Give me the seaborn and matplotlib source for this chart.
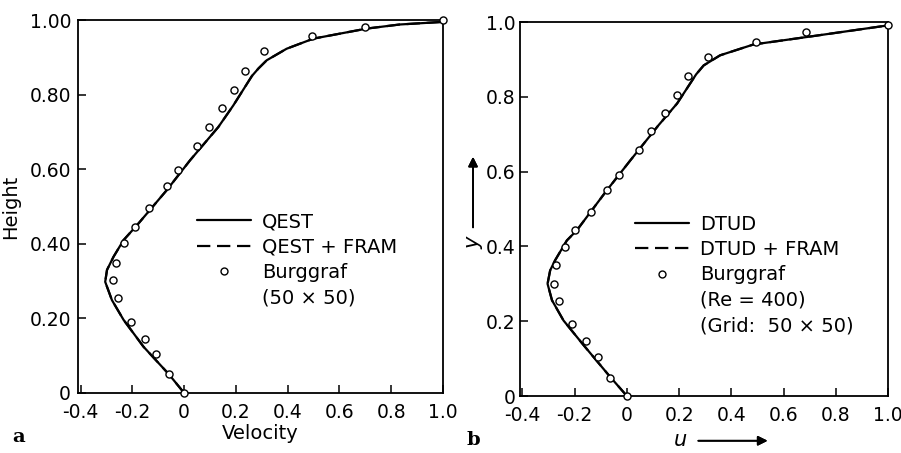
import numpy as np
import pandas as pd
import seaborn as sns
import matplotlib.pyplot as plt
from matplotlib.lines import Line2D

# panel a: QEST curve (u, height)
qest_y = [0, 0.051, 0.124, 0.196, 0.249, 0.298, 0.33, 0.365, 0.41, 0.45, 0.544,
          0.624, 0.713, 0.771, 0.85, 0.87, 0.892, 0.923, 0.950, 0.977, 0.988, 0.995]
qest_u = [0, -0.06, -0.157, -0.234, -0.279, -0.305, -0.298, -0.273, -0.234, -0.182, -0.067,
          0.023, 0.132, 0.19, 0.262, 0.287, 0.319, 0.396, 0.499, 0.705, 0.833, 1.0]
# QEST+FRAM coincides with QEST in the plot
fram_a_y = list(qest_y)
fram_a_u = list(qest_u)

# panel b: DTUD curve
dtud_y = [0, 0.051, 0.136, 0.202, 0.256, 0.30, 0.336, 0.363, 0.416, 0.443, 0.55,
          0.63, 0.724, 0.782, 0.86, 0.884, 0.911, 0.94, 0.96, 0.991]
dtud_u = [0, -0.064, -0.166, -0.243, -0.287, -0.304, -0.294, -0.275, -0.23, -0.192, -0.077,
          0.013, 0.121, 0.192, 0.265, 0.294, 0.357, 0.485, 0.69, 1.0]
fram_b_y = list(dtud_y)
fram_b_u = list(dtud_u)

# Burggraf reference points
burg_a_u = [1.0, 0.70, 0.495, 0.31, 0.235, 0.194, 0.145, 0.098, 0.049, -0.024, -0.068,
            -0.134, -0.19, -0.233, -0.265, -0.274, -0.256, -0.207, -0.153, -0.108, -0.06, 0]
burg_a_y = [1.0, 0.982, 0.958, 0.916, 0.864, 0.813, 0.763, 0.714, 0.6625, 0.597, 0.554,
            0.496, 0.446, 0.401, 0.348, 0.302, 0.254, 0.19, 0.146, 0.105, 0.051, 0]
burg_b_u = [1.0, 0.686, 0.496, 0.309, 0.235, 0.193, 0.147, 0.093, 0.045, -0.029, -0.077,
            -0.138, -0.197, -0.236, -0.272, -0.28, -0.259, -0.211, -0.158, -0.112, -0.066, 0]
burg_b_y = [0.991, 0.972, 0.946, 0.906, 0.856, 0.804, 0.756, 0.709, 0.658, 0.592, 0.551,
            0.492, 0.443, 0.399, 0.351, 0.299, 0.254, 0.193, 0.146, 0.105, 0.049, 0]

xticks = [-0.4, -0.2, 0, 0.2, 0.4, 0.6, 0.8, 1.0]
xticklabels = ["-0.4", "-0.2", "0", "0.2", "0.4", "0.6", "0.8", "1.0"]
yticks = [0, 0.2, 0.4, 0.6, 0.8, 1.0]
yticklabels_a = ["0", "0.20", "0.40", "0.60", "0.80", "1.00"]
yticklabels_b = ["0", "0.2", "0.4", "0.6", "0.8", "1.0"]

sns.set_style("ticks")
plt.rcParams['font.family'] = ['DejaVu Sans']
plt.rcParams['font.size'] = 13
for key in ["text.color", "axes.labelcolor", "xtick.color", "ytick.color", "axes.edgecolor"]:
    plt.rcParams[key] = "black"

fig = plt.figure(figsize=(9.01, 4.53), dpi=100)
ax_a = fig.add_axes([0.0866, 0.1325, 0.405, 0.8233])
ax_b = fig.add_axes([0.577, 0.1258, 0.4086, 0.8256])

dash = (0, (6, 3))


def draw_panel(ax, cu, cy, fu, fy, bu, by, names, ylabels, ypad):
    sns.lineplot(x=cu, y=cy, sort=False, estimator=None, color="k", lw=1.6, ax=ax)
    sns.lineplot(x=fu, y=fy, sort=False, estimator=None, color="k", lw=1.6,
                 linestyle=dash, ax=ax)
    sns.scatterplot(x=bu, y=by, marker="o", s=26, facecolor="white",
                    edgecolor="k", linewidth=1.0, ax=ax, zorder=5, clip_on=False)
    for ln in ax.lines:
        ln.set_clip_on(False)
    ax.set_xlim(-0.41, 1.0)
    ax.set_ylim(0, 1.0)
    ax.set_xticks(xticks)
    ax.set_xticklabels(xticklabels)
    ax.set_yticks(yticks)
    ax.set_yticklabels(ylabels)
    ax.tick_params(axis="both", direction="in", length=6, width=1.1, labelsize=13.5)
    ax.tick_params(axis="x", pad=7)
    ax.tick_params(axis="y", pad=ypad)
    for sp in ax.spines.values():
        sp.set_linewidth(1.3)
        sp.set_visible(True)
    handles = [Line2D([], [], color="k", lw=1.6),
               Line2D([], [], color="k", lw=1.6, linestyle=dash),
               Line2D([], [], color="k", marker="o", ls="none", mfc="white",
                      mec="k", ms=5, mew=1.0)]
    handles += [Line2D([], [], ls="none") for _ in names[3:]]
    return handles


names_a = ["QEST", "QEST + FRAM", "Burggraf", "(50 × 50)"]
h_a = draw_panel(ax_a, qest_u, qest_y, fram_a_u, fram_a_y, burg_a_u, burg_a_y,
                 names_a, yticklabels_a, 5)
ax_a.legend(h_a, names_a, loc="upper left", bbox_to_anchor=(0.325, 0.485),
            frameon=False, fontsize=14, handlelength=2.8, handletextpad=0.55,
            labelspacing=0.33, borderpad=0, borderaxespad=0)
ax_a.set_xlabel("Velocity", fontsize=14, labelpad=2)
ax_a.set_ylabel("Height", fontsize=14, labelpad=7)

names_b = ["DTUD", "DTUD + FRAM", "Burggraf", "(Re = 400)", "(Grid:  50 × 50)"]
h_b = draw_panel(ax_b, dtud_u, dtud_y, fram_b_u, fram_b_y, burg_b_u, burg_b_y,
                 names_b, yticklabels_b, 3)
ax_b.legend(h_b, names_b, loc="upper left", bbox_to_anchor=(0.312, 0.485),
            frameon=False, fontsize=14, handlelength=2.8, handletextpad=0.55,
            labelspacing=0.33, borderpad=0, borderaxespad=0)
ax_b.set_xlabel("")
ax_b.set_ylabel("")

# axis labels with arrows for panel b
fig.text(0.7547, 0.0287, "u", style="italic", fontsize=15, ha="center", va="center")
fig.add_artist(plt.annotate("", xy=(0.855, 0.027), xytext=(0.772, 0.027),
                            xycoords="figure fraction",
                            arrowprops=dict(arrowstyle="-|>", color="k", lw=1.3,
                                            mutation_scale=14)))
fig.text(0.525, 0.463, "y", style="italic", fontsize=15, rotation=90,
         ha="center", va="center")
fig.add_artist(plt.annotate("", xy=(0.525, 0.66), xytext=(0.525, 0.492),
                            xycoords="figure fraction",
                            arrowprops=dict(arrowstyle="-|>", color="k", lw=1.3,
                                            mutation_scale=14)))

fig.text(0.0133, 0.035, "a", family="DejaVu Serif", weight="bold", fontsize=14,
         ha="left", va="center")
fig.text(0.518, 0.029, "b", family="DejaVu Serif", weight="bold", fontsize=14,
         ha="left", va="center")

fig.savefig("out.png", dpi=100)
